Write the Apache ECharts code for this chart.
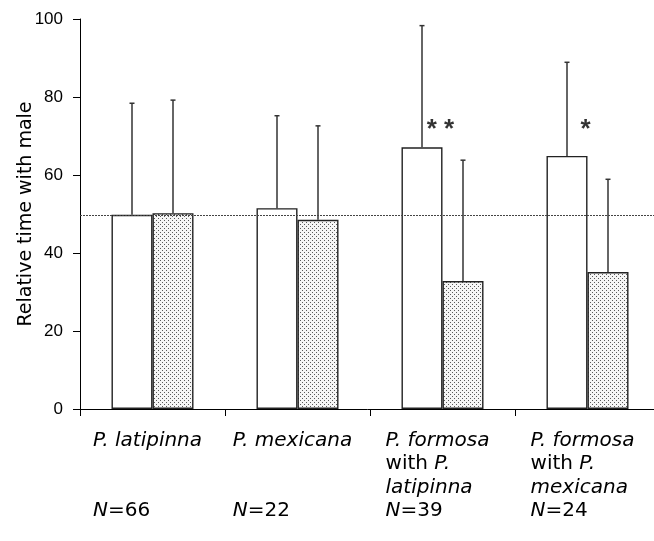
<!DOCTYPE html>
<html>
<head>
<meta charset="utf-8">
<script src="https://cdn.jsdelivr.net/npm/echarts@6/dist/echarts.min.js"></script>
<style>html,body{margin:0;padding:0;background:#fff;}#c{width:654px;height:541px;}</style>
</head>
<body>
<div id="c"></div>
<script>
// ---- data ----
const categories = ['P. latipinna', 'P. mexicana', 'P. formosa with P. latipinna', 'P. formosa with P. mexicana'];
const sampleSizes = ['66', '22', '39', '24'];
const whiteMeans = [49.8, 51.5, 67.1, 64.9];
const whiteErrTop = [78.4, 75.2, 98.3, 88.9];
const dottedMeans = [50.2, 48.5, 32.8, 35.1];
const dottedErrTop = [79.2, 72.6, 63.8, 58.9];
const referenceLevel = 49.7;
const significance = [['', ''], ['', ''], ['* *', 71.5], ['*', 71.5]];
const yTicks = { min: 0, max: 100, interval: 20 };
const yTitle = 'Relative time with male';

// ---- label text (rich) ----
const labelTexts = [
  '{i|P. latipinna}\n{n| }\n{n| }\n{i|N}{n|=' + sampleSizes[0] + '}',
  '{i|P. mexicana}\n{n| }\n{n| }\n{i|N}{n|=' + sampleSizes[1] + '}',
  '{i|P. formosa}\n{n|with }{i|P.}\n{i|latipinna}\n{i|N}{n|=' + sampleSizes[2] + '}',
  '{i|P. formosa}\n{n|with }{i|P.}\n{i|mexicana}\n{i|N}{n|=' + sampleSizes[3] + '}'
];

// dotted fill pattern
const pc = document.createElement('canvas');
pc.width = 4; pc.height = 4;
const pctx = pc.getContext('2d');
pctx.fillStyle = '#f6f6f6'; pctx.fillRect(0, 0, 4, 4);
pctx.fillStyle = '#5a5a5a';
pctx.fillRect(0, 0, 1, 1); pctx.fillRect(2, 2, 1, 1);

const BAR_W = 41;
const errData = [];
for (let i = 0; i < categories.length; i++) {
  errData.push([i, whiteMeans[i], whiteErrTop[i], -1]);
  errData.push([i, dottedMeans[i], dottedErrTop[i], 1]);
}
const starData = [];
significance.forEach((s, i) => { if (s[0]) starData.push({ value: [i, s[1]], txt: s[0] }); });

const chart = echarts.init(document.getElementById('c'), null, { renderer: 'canvas' });
const richBase = { fontFamily: 'DejaVu Sans', fontSize: 20, lineHeight: 23.5, color: '#000', align: 'left' };
chart.setOption({
  animation: false,
  backgroundColor: '#fff',
  grid: { left: 80, top: 19, width: 580, height: 390, containLabel: false, outerBoundsMode: 'none' },
  graphic: [{
    type: 'text',
    x: 26, y: 214,
    rotation: Math.PI / 2,
    silent: true,
    style: {
      text: yTitle,
      fontFamily: 'DejaVu Sans', fontSize: 19, fill: '#000',
      align: 'center', verticalAlign: 'middle'
    }
  }],
  xAxis: {
    type: 'category',
    data: categories,
    boundaryGap: true,
    axisLine: { lineStyle: { color: '#000', width: 1 } },
    axisTick: { show: true, length: 7, lineStyle: { color: '#000' }, alignWithLabel: false },
    axisLabel: {
      interval: 0,
      margin: 20,
      align: 'center',
      padding: [0, 10, 0, 0],
      formatter: function (v, idx) { return labelTexts[idx]; },
      rich: {
        i: Object.assign({}, richBase, { fontStyle: 'italic' }),
        n: Object.assign({}, richBase, { fontStyle: 'normal' })
      }
    },
    splitLine: { show: false }
  },
  yAxis: {
    type: 'value',
    min: yTicks.min, max: yTicks.max, interval: yTicks.interval,
    axisLine: { show: true, lineStyle: { color: '#000', width: 1 } },
    axisTick: { show: true, length: 7, lineStyle: { color: '#000' } },
    axisLabel: { margin: 17, fontFamily: 'Liberation Sans', fontSize: 17, color: '#000' },
    splitLine: { show: false }
  },
  series: [
    {
      type: 'bar',
      data: whiteMeans,
      barWidth: BAR_W,
      barGap: '0%',
      itemStyle: { color: '#fff', borderColor: '#222', borderWidth: 1.4 },
      markLine: {
        silent: true,
        symbol: 'none',
        label: { show: false },
        lineStyle: { color: '#444', type: [2, 1], width: 1 },
        data: [{ yAxis: referenceLevel }]
      },
      z: 2
    },
    {
      type: 'bar',
      data: dottedMeans,
      barWidth: BAR_W,
      barGap: '0%',
      itemStyle: { color: { image: pc, repeat: 'repeat' }, borderColor: '#222', borderWidth: 1.4 },
      z: 2
    },
    {
      type: 'custom',
      data: errData,
      z: 3,
      renderItem: function (params, api) {
        const c = api.value(0);
        const x = api.coord([c, 0])[0] + api.value(3) * BAR_W / 2;
        const yb = api.coord([c, api.value(1)])[1];
        const yt = api.coord([c, api.value(2)])[1];
        const st = { stroke: '#333', lineWidth: 1.5 };
        return {
          type: 'group',
          children: [
            { type: 'line', shape: { x1: x, y1: yb, x2: x, y2: yt }, style: st },
            { type: 'line', shape: { x1: x - 2.5, y1: yt, x2: x + 2.5, y2: yt }, style: st }
          ]
        };
      }
    },
    {
      type: 'scatter',
      data: starData,
      symbolSize: 0,
      z: 4,
      label: {
        show: true,
        position: 'inside',
        offset: [-2, 0],
        formatter: function (p) { return p.data.txt; },
        fontFamily: 'Liberation Sans',
        fontWeight: 'bold',
        fontSize: 26,
        color: '#000'
      }
    }
  ]
});
</script>
</body>
</html>
